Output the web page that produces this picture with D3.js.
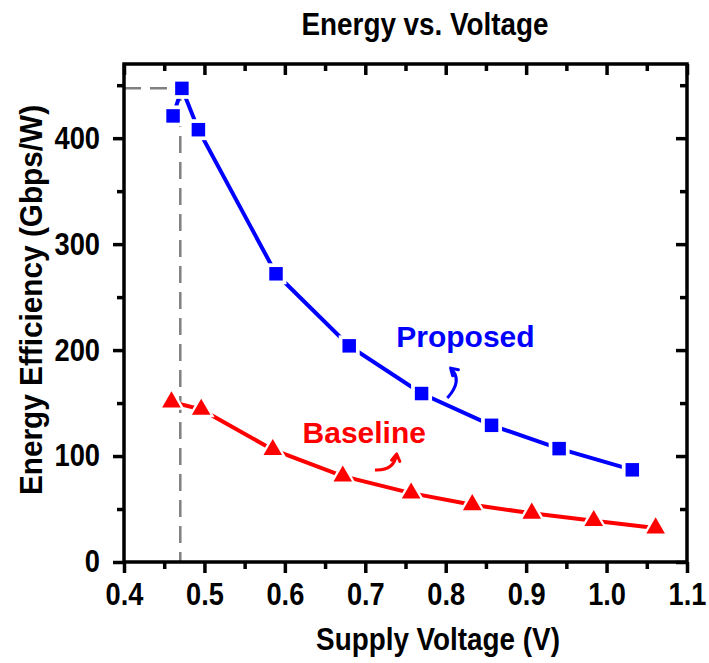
<!DOCTYPE html>
<html>
<head>
<meta charset="utf-8">
<title>Energy vs. Voltage</title>
<script src="https://d3js.org/d3.v7.min.js"></script>
<style>
  body { margin: 0; background: #fff; }
  text { font-family: "Liberation Sans", Arial, sans-serif; font-weight: bold; }
</style>
</head>
<body>
<div id="chart"></div>
<script>
// values
var voltProposed = [0.461, 0.472, 0.4925, 0.589, 0.680, 0.770, 0.857, 0.941, 1.032];
var effProposed  = [421, 447, 408, 272, 204, 159, 129, 107, 87];
var voltBaseline = [0.459, 0.496, 0.585, 0.672, 0.757, 0.833, 0.907, 0.984, 1.061];
var effBaseline  = [151, 144, 106, 81, 65, 54, 46, 39, 32];

var xMajor = [0.4, 0.5, 0.6, 0.7, 0.8, 0.9, 1.0, 1.1];
var xMinor = [0.45, 0.55, 0.65, 0.75, 0.85, 0.95, 1.05];
var yMajor = [0, 100, 200, 300, 400];
var yMinor = [50, 150, 250, 350, 450];

// peak point marked with the dashed guide
var peakVolt = 0.470, peakEff = 447;

var W = 709, H = 663;
var pLeft = 124, pRight = 687, pTop = 64, pBottom = 562;
var sx = 0.87; // condensed look of the original text

var svg = d3.select("#chart").append("svg")
    .attr("width", W).attr("height", H);

var x = d3.scaleLinear().domain([0.4, 1.1]).range([pLeft, pRight]);
var y = d3.scaleLinear().domain([0, 470]).range([pBottom, pTop]);

// dashed guide lines
svg.append("path")
    .attr("d", "M" + x(0.4) + "," + y(peakEff) + "H" + x(peakVolt) + "V" + y(0))
    .attr("fill", "none")
    .attr("stroke", "#808080")
    .attr("stroke-width", 2.5)
    .attr("stroke-dasharray", "17,9");

// axes: major + minor on every side
function styleAxis(g) {
  g.select(".domain").remove();
  g.selectAll("line").attr("stroke", "#000").attr("stroke-width", 3.5);
}

svg.append("g").attr("transform", "translate(0," + pBottom + ")")
  .call(d3.axisBottom(x).tickValues(xMinor).tickSize(7).tickFormat(""))
  .call(styleAxis);
var xb = svg.append("g").attr("transform", "translate(0," + pBottom + ")")
  .call(d3.axisBottom(x).tickValues(xMajor).tickSize(11).tickPadding(9).tickFormat(d3.format(".1f")))
  .call(styleAxis);
xb.selectAll("text")
  .attr("font-size", 32).attr("fill", "#000")
  .attr("font-family", "Liberation Sans, Arial, sans-serif")
  .attr("font-weight", "bold")
  .attr("transform", "scale(0.85,1)");

svg.append("g").attr("transform", "translate(0," + pTop + ")")
  .call(d3.axisTop(x).tickValues(xMinor).tickSize(-7).tickFormat(""))
  .call(styleAxis);
svg.append("g").attr("transform", "translate(0," + pTop + ")")
  .call(d3.axisTop(x).tickValues(xMajor).tickSize(-11).tickFormat(""))
  .call(styleAxis);

svg.append("g").attr("transform", "translate(" + pLeft + ",0)")
  .call(d3.axisLeft(y).tickValues(yMinor).tickSize(7).tickFormat(""))
  .call(styleAxis);
var yl = svg.append("g").attr("transform", "translate(" + pLeft + ",0)")
  .call(d3.axisLeft(y).tickValues(yMajor).tickSize(11).tickFormat(d3.format("d")))
  .call(styleAxis);
yl.selectAll("text")
  .attr("font-size", 31).attr("fill", "#000")
  .attr("font-family", "Liberation Sans, Arial, sans-serif")
  .attr("font-weight", "bold")
  .attr("x", -24 / 0.88)
  .attr("transform", "scale(0.88,1)");

svg.append("g").attr("transform", "translate(" + pRight + ",0)")
  .call(d3.axisRight(y).tickValues(yMinor).tickSize(-7).tickFormat(""))
  .call(styleAxis);
svg.append("g").attr("transform", "translate(" + pRight + ",0)")
  .call(d3.axisRight(y).tickValues(yMajor).tickSize(-11).tickFormat(""))
  .call(styleAxis);

// frame
svg.append("rect")
    .attr("x", pLeft).attr("y", pTop)
    .attr("width", pRight - pLeft).attr("height", pBottom - pTop)
    .attr("fill", "none").attr("stroke", "#000").attr("stroke-width", 3.5);

// series
var series = [
  { volt: voltProposed, eff: effProposed, color: "#0000ff", sym: d3.symbolSquare, size: 182, halo: 440 },
  { volt: voltBaseline, eff: effBaseline, color: "#ff0000", sym: d3.symbolTriangle, size: 150, halo: 310 }
];

var line = d3.line().x(function(d) { return x(d[0]); }).y(function(d) { return y(d[1]); });

series.forEach(function(s) {
  var pts = d3.zip(s.volt, s.eff);
  svg.append("path")
      .attr("d", line(pts))
      .attr("fill", "none")
      .attr("stroke", s.color)
      .attr("stroke-width", 4);
  // white halo gives the gap between line and marker
  svg.append("g").selectAll("path").data(pts).enter().append("path")
      .attr("transform", function(d) { return "translate(" + x(d[0]) + "," + y(d[1]) + ")"; })
      .attr("d", d3.symbol().type(s.sym).size(s.halo))
      .attr("fill", "#fff");
  svg.append("g").selectAll("path").data(pts).enter().append("path")
      .attr("transform", function(d) { return "translate(" + x(d[0]) + "," + y(d[1]) + ")"; })
      .attr("d", d3.symbol().type(s.sym).size(s.size))
      .attr("fill", s.color);
});

// series labels and curved arrows (positions in data units)
var labels = [
  { text: "Proposed", vx: 0.7385, vy: 202.8, color: "#0000ff",
    arrow: [[0.802, 154.7], [0.822, 171.7], [0.806, 183]] },
  { text: "Baseline", vx: 0.622, vy: 112.3, color: "#ff0000",
    arrow: [[0.712, 86.8], [0.736, 86.0], [0.739, 101.9]] }
];

labels.forEach(function(l) {
  svg.append("text")
      .attr("x", x(l.vx)).attr("y", y(l.vy))
      .attr("font-size", 30)
      .attr("fill", l.color)
      .text(l.text);
  var a = l.arrow.map(function(p) { return [x(p[0]), y(p[1])]; });
  svg.append("path")
      .attr("d", "M" + a[0] + "Q" + a[1] + " " + a[2])
      .attr("fill", "none")
      .attr("stroke", l.color)
      .attr("stroke-width", 3);
  // arrow head along the end tangent
  var ang = Math.atan2(a[2][1] - a[1][1], a[2][0] - a[1][0]);
  var hl = 8, hw = 0.55;
  svg.append("path")
      .attr("d", "M" + a[2][0] + "," + a[2][1] +
            "L" + (a[2][0] - hl * Math.cos(ang - hw)) + "," + (a[2][1] - hl * Math.sin(ang - hw)) +
            "M" + a[2][0] + "," + a[2][1] +
            "L" + (a[2][0] - hl * Math.cos(ang + hw)) + "," + (a[2][1] - hl * Math.sin(ang + hw)))
      .attr("fill", "none")
      .attr("stroke", l.color)
      .attr("stroke-width", 3)
      .attr("stroke-linecap", "round");
});

// titles
svg.append("text")
    .attr("transform", "translate(425,35) scale(" + sx + ",1)")
    .attr("text-anchor", "middle")
    .attr("font-size", 32)
    .text("Energy vs. Voltage");

svg.append("text")
    .attr("transform", "translate(438,650) scale(" + sx + ",1)")
    .attr("text-anchor", "middle")
    .attr("font-size", 32)
    .text("Supply Voltage (V)");

svg.append("text")
    .attr("transform", "translate(42,300) rotate(-90) scale(0.93,1)")
    .attr("text-anchor", "middle")
    .attr("font-size", 32)
    .text("Energy Efficiency (Gbps/W)");
</script>
</body>
</html>
